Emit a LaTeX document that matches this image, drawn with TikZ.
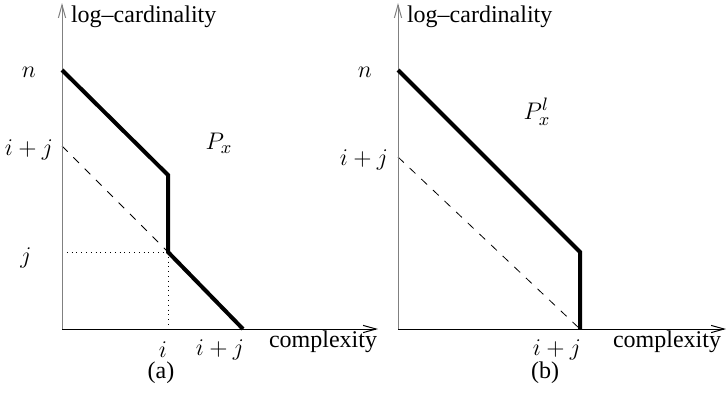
\documentclass[tikz,border=0pt]{standalone}
\usepackage{fontspec}
\setmainfont{Liberation Serif}
\usetikzlibrary{arrows.meta}

\tikzset{
  axis/.style={line width=0.5pt,-{Straight Barb[length=6.5pt,width=3.6pt]}},
  curve/.style={line width=2pt,line join=miter},
  guide/.style={line width=0.4pt,dashed,dash pattern=on 4pt off 4pt},
  helper/.style={line width=0.4pt,dotted},
  mlabel/.style={font=\fontsize{13}{15}\selectfont}
}

\begin{document}
\begin{tikzpicture}[x=0.5pt,y=-0.5pt,font=\fontsize{12}{14}\selectfont]
\useasboundingbox (0,0) rectangle (727,398);
% panel (a)
\coordinate (Ao) at (62,329);
\coordinate (Ay) at (62,3);
\coordinate (Ax) at (378,329);
\coordinate (An) at (62,70);
\coordinate (Aij) at (62,146);
\coordinate (Aj) at (62,252);
\coordinate (Atop) at (168,175);
\coordinate (Akink) at (168,252);
\coordinate (Ai) at (168,329);
\coordinate (Aend) at (243,329);
\draw[helper] (Aj)--(Akink);
\draw[helper] (Akink)--(Ai);
\draw[guide] (Aij)--(Akink);
\draw[axis,gray] (Ao)--(Ay);
\draw[axis] (Ao)--(Ax);
\draw[curve] (An)--(Atop)--(Akink)--(Aend);
\node[anchor=west] (Aly) at (64,17) {log--cardinality};
\node (Alx) at (323,342) {complexity};
\node[mlabel] (Aln) at (29,72) {$n$};
\node[mlabel] (Alij) at (29,150) {$i+j$};
\node[mlabel] (Alj) at (26,258) {$j$};
\node[mlabel] (Ali) at (163,350) {$i$};
\node[mlabel] (Alb) at (220,350) {$i+j$};
\node[mlabel] (AP) at (219,143) {$P_x$};
\node (Acap) at (161,373) {(a)};
% panel (b)
\coordinate (Bo) at (398,329);
\coordinate (By) at (398,3);
\coordinate (Bx) at (726,329);
\coordinate (Bn) at (398,70);
\coordinate (Bij) at (398,157);
\coordinate (Bkink) at (580,252);
\coordinate (Bend) at (580,329);
\draw[guide] (Bij)--(Bend);
\draw[axis,gray] (Bo)--(By);
\draw[axis] (Bo)--(Bx);
\draw[curve] (Bn)--(Bkink)--(Bend);
\node[anchor=west] (Bly) at (400,17) {log--cardinality};
\node (Blx) at (667,342) {complexity};
\node[mlabel] (Bln) at (365,72) {$n$};
\node[mlabel] (Blij) at (364,160) {$i+j$};
\node[mlabel] (Blb) at (557,350) {$i+j$};
\node[mlabel] (BP) at (537,112) {$P_x^l$};
\node (Bcap) at (545,373) {(b)};
\end{tikzpicture}
\end{document}
